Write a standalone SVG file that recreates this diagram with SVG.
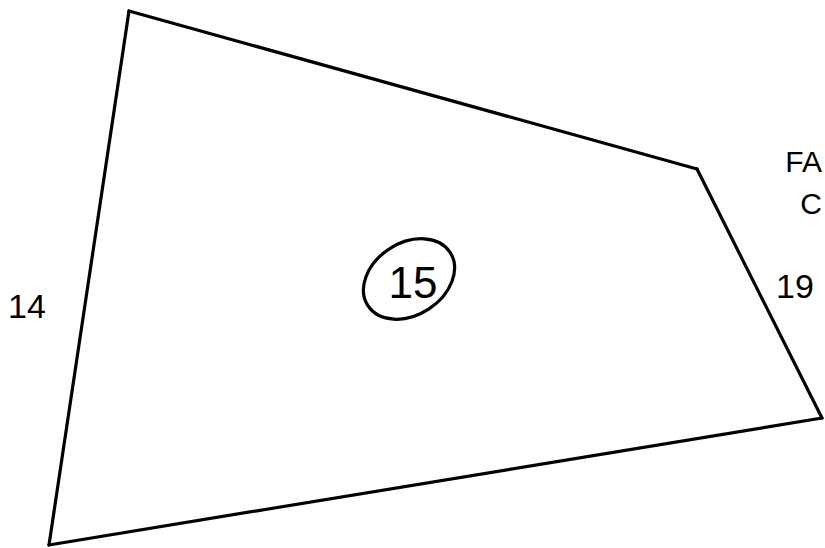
<svg xmlns="http://www.w3.org/2000/svg" width="825" height="548" viewBox="0 0 825 548">
<style>
.ln{fill:none;stroke:#000;stroke-width:3.2;stroke-linejoin:round;stroke-linecap:round}
.t{font-family:"Liberation Sans",Arial,sans-serif;fill:#000}
</style>
<rect width="825" height="548" fill="#fff"/>
<g id="connectors">
<path class="ln" d="M129,11 L697,169"/>
<path class="ln" d="M697,169 L822,418"/>
<path class="ln" d="M822,418 L49,545"/>
<path class="ln" d="M49,545 L129,11"/>
</g>
<g id="area15">
<ellipse class="ln" cx="409" cy="279" rx="49" ry="36" transform="rotate(-33 409 279)"/>
<text class="t" x="413" y="298" text-anchor="middle" style="font-size:44px">15</text>
</g>
<g id="label14"><text class="t" x="8" y="318" style="font-size:34px">14</text></g>
<g id="label19"><text class="t" x="776" y="298" style="font-size:34px">19</text></g>
<g id="labelFA"><text class="t" x="822" y="172" text-anchor="end" style="font-size:30px">FA</text><text class="t" x="822" y="214" text-anchor="end" style="font-size:30px">C</text></g>
</svg>
